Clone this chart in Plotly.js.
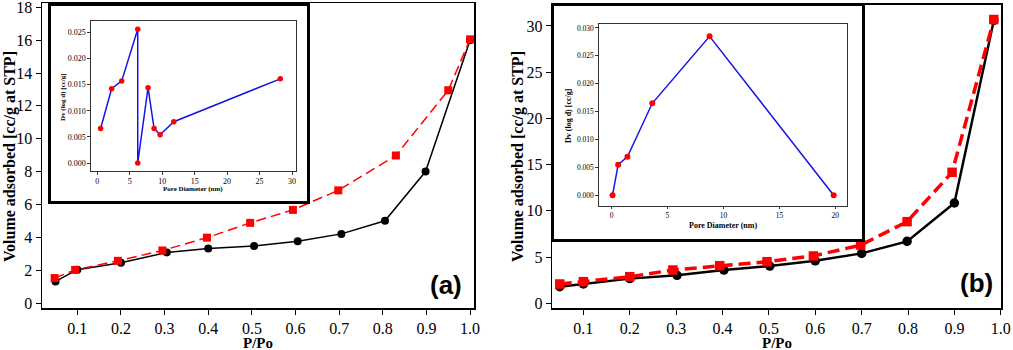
<!DOCTYPE html>
<html>
<head>
<meta charset="utf-8">
<script src="https://cdn.plot.ly/plotly-3.0.1.min.js"></script>
<style>html,body{margin:0;padding:0;background:#fff;}#chart{width:1013px;height:350px;}</style>
</head>
<body>
<div id="chart"></div>
<script>
// ---------- DATA ----------
// Panel (a) isotherm
const pAdsA = [0.05, 0.1, 0.2, 0.305, 0.4, 0.505, 0.605, 0.705, 0.805, 0.898, 1.0];
const vAdsA = [1.32, 2.03, 2.45, 3.08, 3.32, 3.48, 3.76, 4.21, 5.01, 8.0, 16.0];
const pDesA = [0.048, 0.095, 0.193, 0.295, 0.397, 0.496, 0.594, 0.698, 0.83, 0.95, 1.0];
const vDesA = [1.52, 2.02, 2.57, 3.2, 3.98, 4.88, 5.67, 6.86, 8.98, 12.95, 16.05];
// Panel (a) inset: pore size distribution
const poreA = [0.51, 2.21, 3.76, 6.23, 6.23, 7.82, 8.75, 9.68, 11.79, 28.2];
const dvA   = [0.0066, 0.0142, 0.0157, 0.0256, 0.0, 0.0144, 0.0066, 0.0054, 0.0079, 0.0161];
// Panel (b) isotherm
const pAdsB = [0.049, 0.1, 0.2, 0.302, 0.403, 0.502, 0.6, 0.7, 0.798, 0.9, 0.985];
const vAdsB = [1.8, 2.09, 2.67, 3.03, 3.6, 4.03, 4.6, 5.4, 6.7, 10.85, 30.6];
const pDesB = [0.049, 0.1, 0.2, 0.293, 0.394, 0.496, 0.596, 0.698, 0.798, 0.895, 0.985];
const vDesB = [2.09, 2.34, 2.88, 3.6, 4.07, 4.5, 5.12, 6.3, 8.83, 14.17, 30.7];
// Panel (b) inset
const poreB = [0.09, 0.59, 1.42, 3.64, 8.76, 19.85];
const dvB   = [0.0, 0.0055, 0.0069, 0.0165, 0.0285, 0.0];

// Tick labels
const pTicks = [0.1, 0.2, 0.3, 0.4, 0.5, 0.6, 0.7, 0.8, 0.9, 1.0];
const pTickText = ['0.1','0.2','0.3','0.4','0.5','0.6','0.7','0.8','0.9','1.0'];
const vTicksA = [0, 2, 4, 6, 8, 10, 12, 14, 16, 18];
const vTicksB = [0, 5, 10, 15, 20, 25, 30];
const poreTicksA = [0, 5, 10, 15, 20, 25, 30];
const poreTicksB = [0, 5, 10, 15, 20];
const dvTicksA = [0, 0.005, 0.01, 0.015, 0.02, 0.025];
const dvTicksB = [0, 0.005, 0.01, 0.015, 0.02, 0.025, 0.03];

// ---------- LAYOUT HELPERS ----------
const W = 1013, H = 350;
const px = v => v / W;
const py = v => 1 - v / H;
const SERIF = "Liberation Serif";
const SANS = "Liberation Sans";

function mainAxis(extra) {
  return Object.assign({
    showline: true, mirror: true, linewidth: 1.5, linecolor: '#000',
    ticks: 'outside', ticklen: 5, tickwidth: 1, tickcolor: '#000',
    tickfont: {family: SERIF, size: 16, color: '#000'},
    ticklabeloverflow: 'allow',
    showgrid: false, zeroline: false, fixedrange: true
  }, extra);
}
function boxAxis(extra) {
  return Object.assign({
    showline: true, mirror: true, linewidth: 3, linecolor: '#000',
    showticklabels: false, ticks: '', showgrid: false, zeroline: false,
    range: [0, 1], fixedrange: true
  }, extra);
}
function insetAxis(size, extra) {
  return Object.assign({
    showline: true, mirror: true, linewidth: 1.2, linecolor: '#333',
    ticks: 'outside', ticklen: 2.5, tickwidth: 1, tickcolor: '#333',
    tickfont: {family: SERIF, size: size, color: '#000'},
    showgrid: false, zeroline: false, fixedrange: true
  }, extra);
}

const traces = [
  // (a) main
  {x: pAdsA, y: vAdsA, xaxis: 'x', yaxis: 'y', mode: 'lines+markers', cliponaxis: false,
   line: {color: '#000', width: 1.5}, marker: {symbol: 'circle', size: 8, color: '#000'}},
  {x: pDesA, y: vDesA, xaxis: 'x', yaxis: 'y', mode: 'lines+markers', cliponaxis: false,
   line: {color: '#ff0000', width: 1.5, dash: '10px,5px'}, marker: {symbol: 'square', size: 8, color: '#ff0000'}},
  // (a) box holder
  {x: [], y: [], xaxis: 'x2', yaxis: 'y2', mode: 'markers', hoverinfo: 'skip'},
  // (a) inset
  {x: poreA, y: dvA, xaxis: 'x3', yaxis: 'y3', mode: 'lines+markers', cliponaxis: false,
   line: {color: '#1414e6', width: 1.5}, marker: {symbol: 'circle', size: 5.5, color: '#ff0000'}},
  // (b) main
  {x: pAdsB, y: vAdsB, xaxis: 'x4', yaxis: 'y4', mode: 'lines+markers', cliponaxis: false,
   line: {color: '#000', width: 2.5}, marker: {symbol: 'circle', size: 9.5, color: '#000'}},
  {x: pDesB, y: vDesB, xaxis: 'x4', yaxis: 'y4', mode: 'lines+markers', cliponaxis: false,
   line: {color: '#ff0000', width: 3.5, dash: '12px,6px'}, marker: {symbol: 'square', size: 9.5, color: '#ff0000'}},
  // (b) box holder
  {x: [], y: [], xaxis: 'x5', yaxis: 'y5', mode: 'markers', hoverinfo: 'skip'},
  // (b) inset
  {x: poreB, y: dvB, xaxis: 'x6', yaxis: 'y6', mode: 'lines+markers', cliponaxis: false,
   line: {color: '#1414e6', width: 1.5}, marker: {symbol: 'circle', size: 6, color: '#ff0000'}}
];

function ann(text, x, y, size, angle, family) {
  return {text: text, x: px(x), y: py(y), xref: 'paper', yref: 'paper', showarrow: false,
          xanchor: 'center', yanchor: 'middle', textangle: angle || 0,
          font: {family: family || SERIF, size: size, color: '#000'}};
}

const layout = {
  width: W, height: H, margin: {l: 0, r: 0, t: 0, b: 0},
  paper_bgcolor: '#fff', plot_bgcolor: '#fff', showlegend: false, hovermode: false,
  font: {family: SERIF, color: '#000'},
  xaxis: mainAxis({domain: [px(42), px(474)], range: [0.019, 1.009], anchor: 'y', tickvals: pTicks, ticktext: pTickText}),
  yaxis: mainAxis({domain: [py(308), py(3)], range: [-0.3, 18.26], anchor: 'x', tickvals: vTicksA}),
  xaxis2: boxAxis({domain: [px(51), px(307)], anchor: 'y2'}),
  yaxis2: boxAxis({domain: [py(201), py(6)], anchor: 'x2'}),
  xaxis3: insetAxis(8, {domain: [px(91), px(295.7)], range: [-0.97, 30.57], anchor: 'y3', tickvals: poreTicksA}),
  yaxis3: insetAxis(8, {domain: [py(171), py(20.7)], range: [-0.00153, 0.02722], anchor: 'x3', tickvals: dvTicksA, tickformat: '.3f'}),
  xaxis4: mainAxis({domain: [px(552.3), px(1001)], range: [0.033, 1.0005], anchor: 'y4', tickvals: pTicks, ticktext: pTickText}),
  yaxis4: mainAxis({domain: [py(308.3), py(4.7)], range: [-0.54, 32.3], anchor: 'x4', tickvals: vTicksB}),
  xaxis5: boxAxis({domain: [px(553.5), px(862)], anchor: 'y5'}),
  yaxis5: boxAxis({domain: [py(239), py(6)], anchor: 'x5'}),
  xaxis6: insetAxis(7.5, {domain: [px(599), px(847)], range: [-1.12, 21.04], anchor: 'y6', tickvals: poreTicksB}),
  yaxis6: insetAxis(7.5, {domain: [py(205.7), py(24.3)], range: [-0.00186, 0.03066], anchor: 'x6', tickvals: dvTicksB, tickformat: '.3f'}),
  annotations: [
    ann('<b>Volume adsorbed [cc/g at STP]</b>', 10, 157, 16, -90),
    ann('<b>P/Po</b>', 258, 343, 15),
    ann('<b>Volume adsorbed [cc/g at STP]</b>', 518, 157, 16, -90),
    ann('<b>P/Po</b>', 777, 343, 15),
    ann('<b>Dv (log d) [cc/g]</b>', 63, 97, 7, -90),
    ann('<b>Pore Diameter (nm)</b>', 193, 189, 7),
    ann('<b>Dv (log d) [cc/g]</b>', 569, 116, 8, -90),
    ann('<b>Pore Diameter (nm)</b>', 723, 225, 8),
    ann('<b>(a)</b>', 446, 285, 26, 0, SANS),
    ann('<b>(b)</b>', 976, 283, 26, 0, SANS)
  ]
};

Plotly.newPlot('chart', traces, layout, {displayModeBar: false, staticPlot: true});
</script>
</body>
</html>
